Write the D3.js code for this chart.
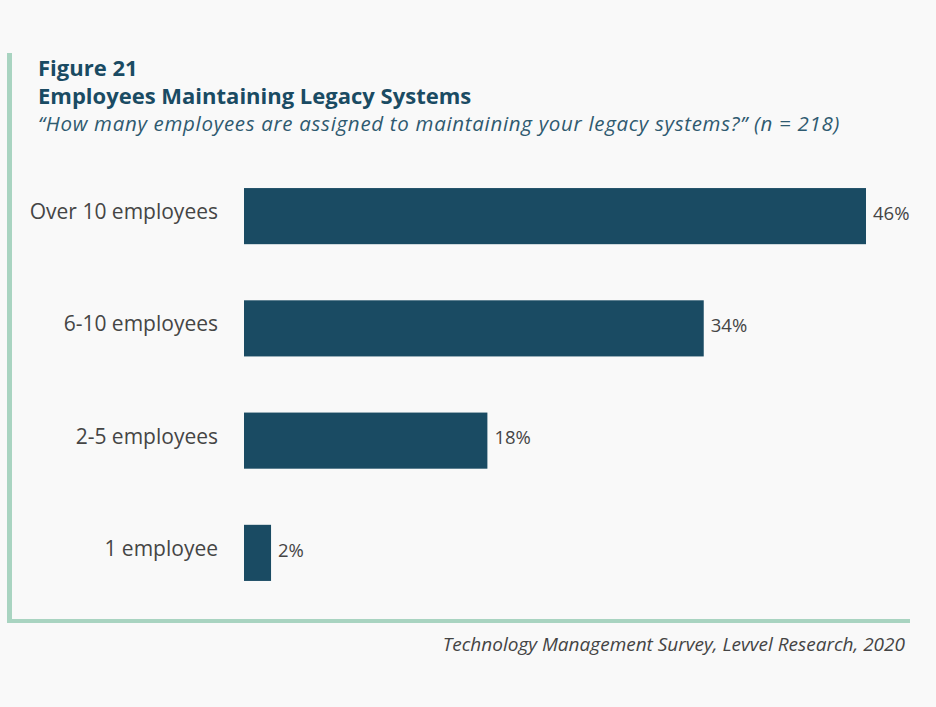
<!DOCTYPE html>
<html>
<head>
<meta charset="utf-8">
<script src="https://cdn.jsdelivr.net/npm/d3@7/dist/d3.min.js"></script>
<style>
  html, body { margin: 0; padding: 0; background: #f9f9f9; }
  svg { display: block; font-family: "Open Sans", sans-serif; }
</style>
</head>
<body>
<svg id="chart" width="936" height="707"></svg>
<script>
// Survey responses: share of respondents per staffing bucket
const categories = ["Over 10 employees", "6-10 employees", "2-5 employees", "1 employee"];
const shares = [46, 34, 18, 2];

const figureLabel = "Figure 21";
const title = "Employees Maintaining Legacy Systems";
const subtitle = "\u201CHow many employees are assigned to maintaining your legacy systems?\u201D (n = 218)";
const source = "Technology Management Survey, Levvel Research, 2020";

const svg = d3.select("#chart");
const navy = "#1a4b63";
const frame = "#a9d4c1";
const textGrey = "#454545";

svg.append("rect").attr("width", 936).attr("height", 707).attr("fill", "#f9f9f9");

// L-shaped frame on the left and bottom
svg.append("rect").attr("x", 7).attr("y", 53).attr("width", 5).attr("height", 570).attr("fill", frame);
svg.append("rect").attr("x", 7).attr("y", 619).attr("width", 903).attr("height", 4).attr("fill", frame);

// Header
svg.append("text").attr("x", 38).attr("y", 76)
  .attr("fill", navy).attr("font-weight", 700).attr("font-size", 22)
  .text(figureLabel);
svg.append("text").attr("x", 38).attr("y", 103.5)
  .attr("fill", navy).attr("font-weight", 700).attr("font-size", 22)
  .text(title);
svg.append("text").attr("x", 38).attr("y", 130.5)
  .attr("fill", "#2f5a70").attr("font-style", "italic").attr("font-size", 20.5)
  .attr("letter-spacing", 0.7)
  .text(subtitle);

// Scales
const x = d3.scaleLinear().domain([0, 46]).range([244, 866]);
const y = d3.scaleBand().domain(categories).range([160, 609])
  .paddingInner(0.5).paddingOuter(0.25);

const rows = categories.map((c, i) => ({ category: c, value: shares[i] }));

// Bars
svg.append("g").selectAll("rect").data(rows).join("rect")
  .attr("x", x(0))
  .attr("y", d => y(d.category))
  .attr("width", d => x(d.value) - x(0))
  .attr("height", y.bandwidth())
  .attr("fill", navy);

// Category labels
const yAxis = d3.axisLeft(y).tickSize(0).tickPadding(0);
const gy = svg.append("g").attr("transform", "translate(218,0)").call(yAxis);
gy.select(".domain").remove();
gy.selectAll("text")
  .attr("font-family", "'Open Sans', sans-serif")
  .attr("font-size", 21).attr("fill", textGrey)
  .attr("dy", "0.14em");

// Value labels
svg.append("g").selectAll("text").data(rows).join("text")
  .attr("x", d => x(d.value) + 7)
  .attr("y", d => y(d.category) + y.bandwidth() / 2)
  .attr("dy", "0.2em")
  .attr("font-size", 18.5).attr("fill", textGrey)
  .text(d => d.value + "%");

// Source note
svg.append("text").attr("x", 905).attr("y", 650.5).attr("text-anchor", "end")
  .attr("fill", "#444").attr("font-style", "italic").attr("font-size", 19)
  .text(source);
</script>
</body>
</html>
